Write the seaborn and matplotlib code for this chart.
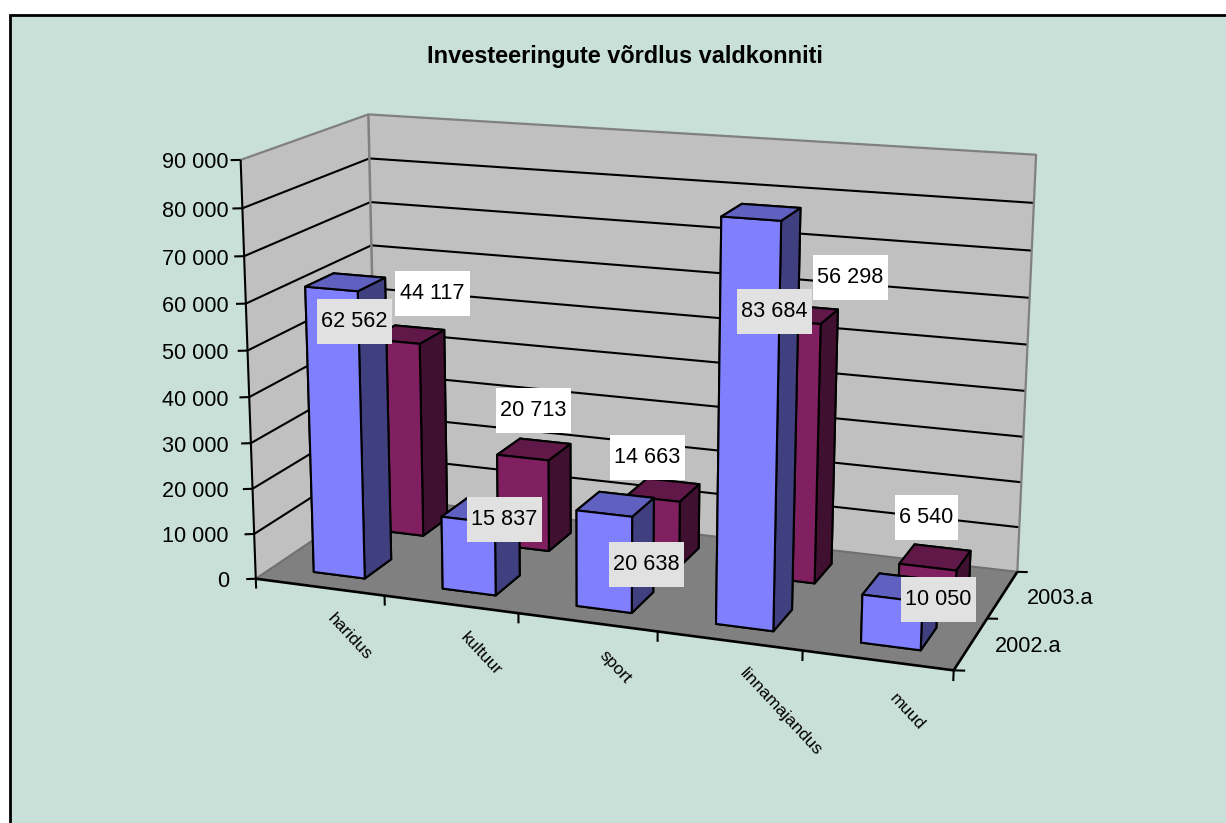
import numpy as np
import matplotlib
matplotlib.use("Agg")
import matplotlib.pyplot as plt
from matplotlib.patches import Rectangle
from mpl_toolkits.mplot3d.art3d import Poly3DCollection, Line3DCollection
import seaborn as sns

# ---- data ----
title = "Investeeringute võrdlus valdkonniti"
categories = ["haridus", "kultuur", "sport", "linnamajandus", "muud"]
series_names = ["2002.a", "2003.a"]
values_2002 = [62562, 15837, 20638, 83684, 10050]
values_2003 = [44117, 20713, 14663, 56298, 6540]
z_ticks = [0, 10000, 20000, 30000, 40000, 50000, 60000, 70000, 80000, 90000]

# ---- layout (pixel positions of the labels and camera calibration) ----
W, H = 1226, 823
ZMAX = 90000
label_centers_2002 = [(354.5, 321.5), (504.5, 519.5), (646.5, 564.5), (774.5, 311.5), (938.5, 599.5)]
label_centers_2003 = [(432.5, 293.5), (533.5, 410.5), (647.5, 457.5), (850.5, 277.5), (926.5, 517.5)]
cat_label_centers = [(350, 637), (481, 654), (615, 667), (781, 712), (907, 712)]
series_label_centers = [(1028, 646), (1060, 598)]
calib = [((0, 0, 0), (257, 579)), ((5, 0, 0), (953, 671)), ((5, 2, 0), (1018, 571)),
         ((0, 2, 0), (376, 497)), ((0, 0, 1), (240, 159)), ((0, 2, 1), (369, 115)),
         ((5, 2, 1), (1036, 155))]
BAR_X0, BAR_DX, BAR_Y0, BAR_DY = 0.32, 0.40, 0.27, 0.44
FS = 15.6
LW = 1.5

sns.set_theme(style="white")
plt.rcParams["font.family"] = ["Liberation Sans", "DejaVu Sans"]
TXT = "#000000"
BG = "#C9E0D8"
WALL, FLOOR, EDGE = "#C0C0C0", "#808080", "#808080"
palette = sns.color_palette(["#8080FF", "#802060"])
tops = ["#6060C0", "#601848"]
sides = ["#404080", "#401030"]

def camera():
    """Solve the perspective camera of the chart's box from its corners."""
    A, b = [], []
    for (x, y, z), (u, v) in calib:
        A.append([x, y, z, 1, 0, 0, 0, 0, -u * x, -u * y, -u * z]); b.append(u)
        A.append([0, 0, 0, 0, x, y, z, 1, -v * x, -v * y, -v * z]); b.append(v)
    p = np.linalg.lstsq(np.array(A, float), np.array(b, float), rcond=None)[0]
    P = np.append(p, 1).reshape(3, 4)
    P[:, 2] /= ZMAX
    return np.array([P[0], P[1], [0, 0, 0, -1.0], P[2]])

fig = plt.figure(figsize=(W / 100, H / 100), dpi=100, facecolor="white")
fig.add_artist(Rectangle((9.5 / W, -0.05), 1.1, 1.05 - 15.5 / H, transform=fig.transFigure,
                         facecolor=BG, edgecolor="black", linewidth=2.0, zorder=-1))

ax = fig.add_axes([0, 0, 1, 1], projection="3d", computed_zorder=False)
ax.set_axis_off()
ax.patch.set_visible(False)
M = camera()
ax.get_proj = lambda: M
ax.apply_aspect = lambda position=None: None
nx, ny = len(categories), len(series_names)

def quad(pts, color, z):
    ax.add_collection3d(Poly3DCollection([pts], facecolors=color, edgecolors="none", zorder=z))

def lines(segs, color, lw, z):
    ax.add_collection3d(Line3DCollection(segs, colors=color, linewidths=lw, zorder=z))

quad([(0, 0, 0), (nx, 0, 0), (nx, ny, 0), (0, ny, 0)], FLOOR, 1)
quad([(0, 0, 0), (0, ny, 0), (0, ny, ZMAX), (0, 0, ZMAX)], WALL, 1)
quad([(0, ny, 0), (nx, ny, 0), (nx, ny, ZMAX), (0, ny, ZMAX)], WALL, 1)

for z in z_ticks[1:-1]:
    lines([[(0, 0, z), (0, ny, z), (nx, ny, z)]], "black", LW, 2)
lines([[(0, 0, 0), (0, ny, 0), (nx, ny, 0)]], "#707070", LW, 2)
lines([[(0, 0, ZMAX), (0, ny, ZMAX), (nx, ny, ZMAX), (nx, ny, 0)]], EDGE, 1.6, 2)
lines([[(0, ny, 0), (0, ny, ZMAX)]], EDGE, 1.8, 2)
lines([[(0, 0, 0), (0, 0, ZMAX)]], "black", LW, 3)
lines([[(0, 0, 0), (nx, 0, 0), (nx, ny, 0)]], "black", 1.9, 3)
lines([[(-0.06, -0.03, z), (0, 0, z)] for z in z_ticks], "black", LW, 3)
lines([[(i, 0, 0), (i, 0, -2200)] for i in range(nx + 1)], "black", LW, 3)
lines([[(nx, j, 0), (nx + 0.07, j + 0.02, 0)] for j in range(ny + 1)], "black", LW, 3)

# back series first, then the front series
for s, vals in [(1, values_2003), (0, values_2002)]:
    for i, v in enumerate(vals):
        ax.bar3d(i + BAR_X0, s + BAR_Y0, 0, BAR_DX, BAR_DY, v,
                 color=[palette[s], tops[s], palette[s], sides[s], sides[s], sides[s]],
                 shade=False, edgecolor="black", linewidth=LW, zorder=5 + (1 - s) * 2 + i * 0.01)
ax.viewLim.intervalx = (0, W)
ax.viewLim.intervaly = (H, 0)

# overlay for all the text
ov = fig.add_axes([0, 0, 1, 1], zorder=5)
ov.set_xlim(0, W)
ov.set_ylim(H, 0)
ov.axis("off")
ov.text(624.5, 56, title, ha="center", va="center", fontsize=16.9, fontweight="bold", color=TXT)

def fmt(v):
    return f"{v:,}".replace(",", " ")

for z in z_ticks:
    # left value axis labels follow its projected ticks
    xy = M @ np.array([0, 0, z, 1.0])
    ov.text(229, xy[1] / xy[3] + 3, fmt(z), ha="right", va="center", fontsize=FS, color=TXT)
for name, (cx, cy) in zip(categories, cat_label_centers):
    ov.text(cx, cy, name, ha="center", va="center", rotation=-47, rotation_mode="anchor",
            fontsize=12.5, color=TXT)
for name, (cx, cy) in zip(series_names, series_label_centers):
    ov.text(cx, cy, name, ha="center", va="center", fontsize=FS, color=TXT)
for vals, centers, bg in [(values_2003, label_centers_2003, "white"), (values_2002, label_centers_2002, "#E1E1E1")]:
    for v, (cx, cy) in zip(vals, centers):
        t = fmt(v)
        w = 75 if v >= 10000 else 63
        ov.add_patch(Rectangle((cx - w / 2, cy - 22.5), w, 45, facecolor=bg, edgecolor="none"))
        ov.text(cx, cy, t, ha="center", va="center", fontsize=FS, color=TXT)

fig.savefig("out.png", dpi=100, facecolor="white")
